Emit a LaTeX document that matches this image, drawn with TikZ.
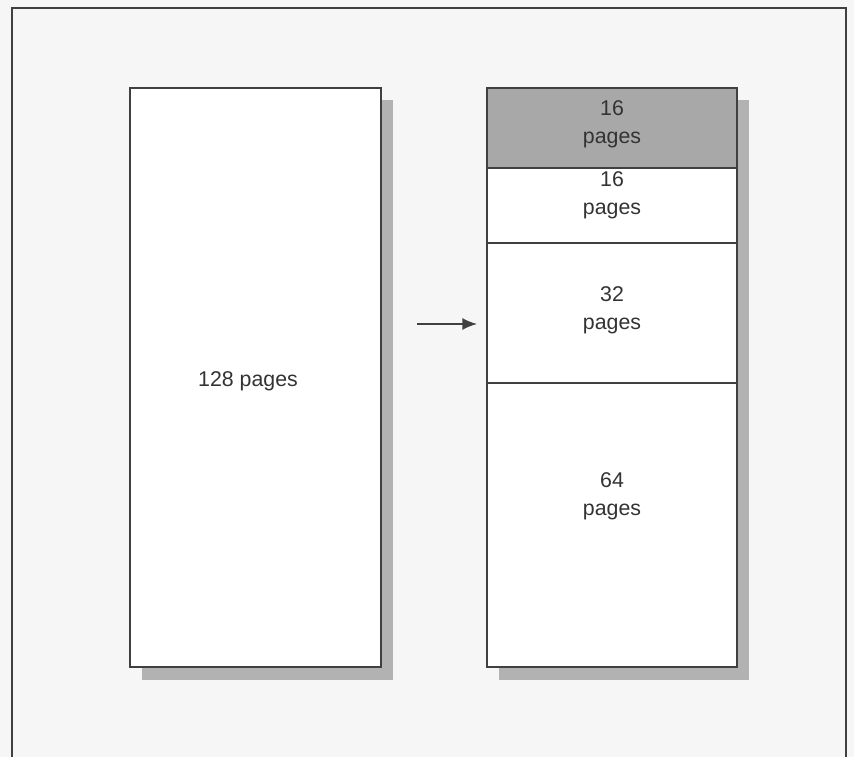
\documentclass[tikz,border=0pt]{standalone}
\usepackage{fontspec}
\setmainfont{Liberation Sans}
\usetikzlibrary{positioning,arrows.meta}

\definecolor{paper}{gray}{0.965}
\definecolor{ink}{gray}{0.25}
\definecolor{shadowgray}{gray}{0.70}
\definecolor{cellgray}{gray}{0.66}

\tikzset{
  pagebox/.style={draw=ink,line width=1.1pt,fill=white,inner sep=0pt,outer sep=0pt,
    minimum width=187.5pt},
  pagetext/.style={text=black!80,font=\fontsize{16}{21}\selectfont,align=center,inner sep=0pt},
}

\begin{document}
\begin{tikzpicture}[x=0.75pt,y=-0.75pt,>=Latex]
  \useasboundingbox (0,0) rectangle (854,757);
  \fill[paper] (0,0) rectangle (854,757);
  \draw[ink,line width=0.9pt] (12,757) -- (12,8) -- (846,8) -- (846,757);
  % shadows
  \fill[shadowgray] (142,100) rectangle (393,680);
  \fill[shadowgray] (499,100) rectangle (749,680);
  % left: one block
  \node[pagebox,minimum width=188.25pt,minimum height=434.25pt] (whole) at (255.5,377.5) {};
  \node[pagetext] (wholetext) at (248,381) {128 pages};
  % right: split up
  \node[pagebox,fill=cellgray,minimum height=60pt] (cellA) at (612,128) {};
  \node[pagebox,minimum height=56.25pt,below=0pt of cellA] (cellB) {};
  \node[pagebox,minimum height=105pt,below=0pt of cellB] (cellC) {};
  \node[pagebox,minimum height=213pt,below=0pt of cellC] (cellD) {};
  \node[pagetext] (textA) at (612,124) {16\\pages};
  \node[pagetext] (textB) at (612,195) {16\\pages};
  \node[pagetext] (textC) at (612,310) {32\\pages};
  \node[pagetext] (textD) at (612,496) {64\\pages};
  % arrow
  \coordinate (arrowtail) at (417,324);
  \draw[-{Latex[length=11pt,width=9pt]},ink,line width=1.2pt,shorten >=7.5pt]
    (arrowtail) -- (arrowtail -| cellC.west);
\end{tikzpicture}
\end{document}
